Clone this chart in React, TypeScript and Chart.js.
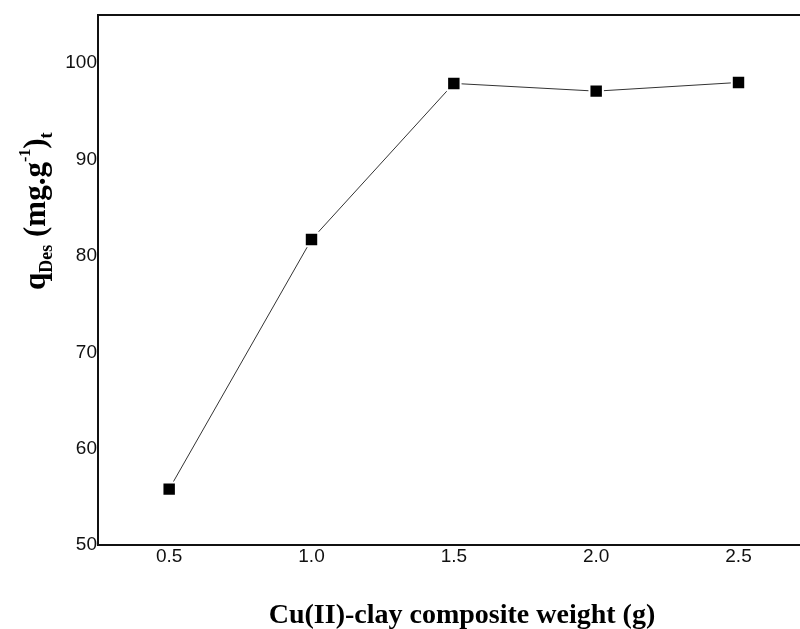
import React, { useEffect, useRef } from "react";
import { Chart, registerables } from "chart.js";

Chart.register(...registerables);

// ---- data ----
const weights = [0.5, 1.0, 1.5, 2.0, 2.5];
const qDes = [55.8, 81.7, 97.9, 97.1, 98.0];
const xTicks = [0.5, 1.0, 1.5, 2.0, 2.5];
const yTicks = [50, 60, 70, 80, 90, 100];
const xTitle = "Cu(II)-clay composite weight (g)";
const yTitleParts = [
  { text: "q", kind: "main" },
  { text: "Des", kind: "sub" },
  { text: " (mg.g", kind: "main" },
  { text: "-1", kind: "sup" },
  { text: ")", kind: "main" },
  { text: "t", kind: "sub" },
];

const SERIF = '"Liberation Serif", "Times New Roman", serif';
const SANS = '"Liberation Sans", Arial, sans-serif';

const framePlugin = {
  id: "frameTop",
  afterDraw(chart: any) {
    const { ctx, chartArea } = chart;
    ctx.save();
    ctx.strokeStyle = "#111";
    ctx.lineWidth = 2;
    ctx.beginPath();
    ctx.moveTo(chartArea.left - 1, chartArea.top);
    ctx.lineTo(chartArea.right, chartArea.top);
    ctx.stroke();
    ctx.restore();
  },
};

const titlesPlugin = {
  id: "titlesRich",
  afterDraw(chart: any) {
    const { ctx } = chart;
    // x title
    ctx.save();
    ctx.fillStyle = "#000";
    ctx.textAlign = "center";
    ctx.textBaseline = "alphabetic";
    ctx.font = `bold 28px ${SERIF}`;
    ctx.fillText(xTitle, 462, 623);
    ctx.restore();

    // y title (rotated, with sub/superscripts)
    ctx.save();
    ctx.translate(45, 290);
    ctx.rotate(-Math.PI / 2);
    ctx.fillStyle = "#000";
    ctx.textBaseline = "alphabetic";
    ctx.textAlign = "left";
    let x = 0;
    for (const p of yTitleParts) {
      let size = 31;
      let dy = 0;
      if (p.kind === "sub") {
        size = 18;
        dy = 7;
      } else if (p.kind === "sup") {
        size = 16;
        dy = -15;
      }
      ctx.font = `bold ${size}px ${SERIF}`;
      ctx.fillText(p.text, x, dy);
      x += ctx.measureText(p.text).width;
    }
    ctx.restore();
  },
};

export default function App() {
  const canvasRef = useRef<HTMLCanvasElement | null>(null);

  useEffect(() => {
    document.body.style.margin = "0";
    const canvas = canvasRef.current;
    if (!canvas) return;
    const chart = new Chart(canvas, {
      type: "line",
      data: {
        datasets: [
          {
            data: weights.map((w, i) => ({ x: w, y: qDes[i] })),
            borderColor: "#333",
            borderWidth: 1,
            pointStyle: "rect",
            pointRadius: 9.5,
            pointBackgroundColor: "#000",
            pointBorderColor: "#fff",
            pointBorderWidth: 2,
            fill: false,
            tension: 0,
          },
        ],
      },
      options: {
        animation: false,
        responsive: false,
        devicePixelRatio: 1,
        layout: { autoPadding: false, padding: { top: 15, right: 0, left: 0, bottom: 0 } },
        plugins: {
          legend: { display: false },
          tooltip: { enabled: false },
        },
        scales: {
          x: {
            type: "linear",
            min: 0.25,
            max: 2.716,
            afterBuildTicks: (scale: any) => {
              scale.ticks = xTicks.map((v) => ({ value: v }));
            },
            afterFit: (scale: any) => {
              scale.height = 84;
            },
            grid: { display: false, drawTicks: false },
            border: { display: true, color: "#111", width: 2 },
            ticks: {
              color: "#111",
              padding: 0,
              font: { family: SANS, size: 19 },
              callback: (v: any) => Number(v).toFixed(1),
            },
          },
          y: {
            type: "linear",
            min: 50,
            max: 105,
            afterBuildTicks: (scale: any) => {
              scale.ticks = yTicks.map((v) => ({ value: v }));
            },
            afterFit: (scale: any) => {
              scale.width = 98;
            },
            grid: { display: false, drawTicks: false },
            border: { display: true, color: "#111", width: 2 },
            ticks: {
              color: "#111",
              padding: 1,
              font: { family: SANS, size: 19 },
              callback: (v: any) => String(v),
            },
          },
        },
      },
      plugins: [framePlugin, titlesPlugin],
    } as any);
    return () => chart.destroy();
  }, []);

  return (
    <div style={{ width: 800, height: 629, background: "#fff" }}>
      <canvas ref={canvasRef} width={800} height={629} />
    </div>
  );
}
